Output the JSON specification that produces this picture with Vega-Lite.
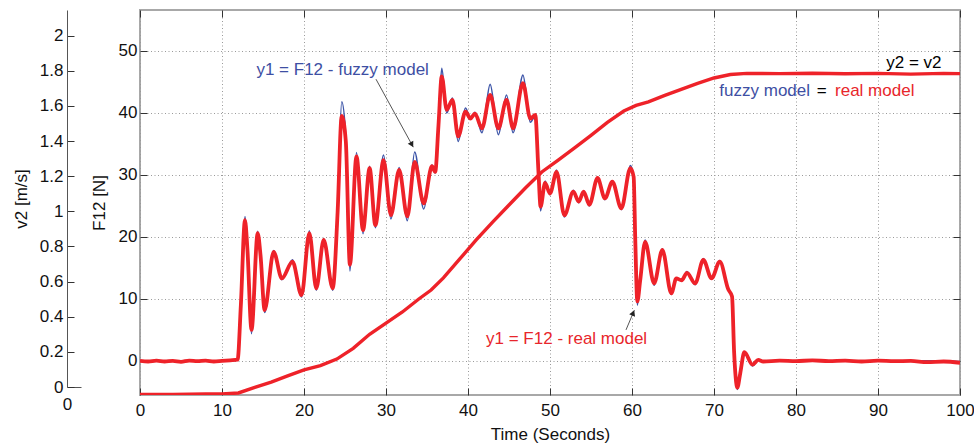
{
  "$schema": "https://vega.github.io/schema/vega-lite/v6.json",
  "padding": {"left": 12, "top": 8, "right": 14, "bottom": 0},
  "background": "white",
  "spacing": 8,
  "config": {
    "font": "Liberation Sans",
    "axis": {
      "labelFont": "Liberation Sans",
      "titleFont": "Liberation Sans",
      "labelFontSize": 17,
      "titleFontSize": 17,
      "titleFontWeight": "normal",
      "labelColor": "#111111",
      "titleColor": "#111111",
      "tickColor": "#333333",
      "domainColor": "#555555",
      "labelOverlap": false
    },
    "text": {"font": "Liberation Sans"}
  },
  "datasets": {
    "f12": [
      {"t": 0, "real": 0.0, "fuzzy": 0.0},
      {"t": 1, "real": -0.1, "fuzzy": 0.0},
      {"t": 2, "real": 0.05, "fuzzy": 0.0},
      {"t": 3, "real": -0.1, "fuzzy": 0.0},
      {"t": 4, "real": 0.0, "fuzzy": 0.0},
      {"t": 5, "real": -0.15, "fuzzy": 0.0},
      {"t": 6, "real": 0.05, "fuzzy": 0.0},
      {"t": 7, "real": -0.05, "fuzzy": 0.0},
      {"t": 8, "real": 0.05, "fuzzy": 0.0},
      {"t": 9, "real": -0.1, "fuzzy": 0.0},
      {"t": 10, "real": 0.0, "fuzzy": 0.0},
      {"t": 11, "real": 0.1, "fuzzy": 0.0},
      {"t": 11.9, "real": 0.2, "fuzzy": 0.2},
      {"t": 12.3, "real": 9, "fuzzy": 9},
      {"t": 12.8, "real": 22.7, "fuzzy": 23.3},
      {"t": 13.1, "real": 18, "fuzzy": 18},
      {"t": 13.6, "real": 5.0, "fuzzy": 4.4},
      {"t": 14.35, "real": 20.6, "fuzzy": 20.9},
      {"t": 14.7, "real": 17, "fuzzy": 17},
      {"t": 15.2, "real": 8.2, "fuzzy": 7.8},
      {"t": 16.3, "real": 17.6, "fuzzy": 17.8},
      {"t": 17.3, "real": 13.3, "fuzzy": 13.1},
      {"t": 18.6, "real": 16.0, "fuzzy": 16.3},
      {"t": 19.7, "real": 10.6, "fuzzy": 10.3},
      {"t": 20.65, "real": 20.6, "fuzzy": 21.0},
      {"t": 21.5, "real": 11.7, "fuzzy": 11.4},
      {"t": 22.4, "real": 19.5, "fuzzy": 19.7},
      {"t": 23.5, "real": 11.7, "fuzzy": 11.4},
      {"t": 24.1, "real": 24, "fuzzy": 24},
      {"t": 24.6, "real": 39.5, "fuzzy": 41.8},
      {"t": 25.1, "real": 35.4, "fuzzy": 36},
      {"t": 25.6, "real": 15.5, "fuzzy": 14.5},
      {"t": 26.4, "real": 33.0, "fuzzy": 33.6},
      {"t": 27.2, "real": 21.1, "fuzzy": 20.5},
      {"t": 28.0, "real": 31.1, "fuzzy": 31.4},
      {"t": 28.7, "real": 21.9, "fuzzy": 21.5},
      {"t": 29.7, "real": 32.4, "fuzzy": 33.2},
      {"t": 30.6, "real": 23.5, "fuzzy": 22.9},
      {"t": 31.6, "real": 30.8, "fuzzy": 31.2},
      {"t": 32.6, "real": 23.3, "fuzzy": 22.6},
      {"t": 33.5, "real": 32.1, "fuzzy": 33.7},
      {"t": 34.6, "real": 25.4, "fuzzy": 24.5},
      {"t": 35.6, "real": 31.4, "fuzzy": 31.6},
      {"t": 36.0, "real": 30.5, "fuzzy": 30.3},
      {"t": 36.4, "real": 38, "fuzzy": 38},
      {"t": 36.8, "real": 45.9, "fuzzy": 47.2},
      {"t": 37.4, "real": 40.5, "fuzzy": 40},
      {"t": 38.1, "real": 42.1, "fuzzy": 42.4},
      {"t": 38.8, "real": 36.2, "fuzzy": 35.4},
      {"t": 39.7, "real": 40.2, "fuzzy": 40.8},
      {"t": 40.3, "real": 39.1, "fuzzy": 39.0},
      {"t": 40.85, "real": 39.9, "fuzzy": 40.1},
      {"t": 41.7, "real": 37.5, "fuzzy": 36.8},
      {"t": 42.7, "real": 42.9, "fuzzy": 44.6},
      {"t": 43.7, "real": 37.5, "fuzzy": 36.5},
      {"t": 44.7, "real": 42.1, "fuzzy": 42.9},
      {"t": 45.5, "real": 37.5, "fuzzy": 36.8},
      {"t": 46.7, "real": 44.8, "fuzzy": 46.1},
      {"t": 47.6, "real": 39.1, "fuzzy": 38.5},
      {"t": 48.2, "real": 39.7, "fuzzy": 39.5},
      {"t": 48.6, "real": 30.3, "fuzzy": 30.3},
      {"t": 48.85, "real": 24.9, "fuzzy": 24.2},
      {"t": 49.4, "real": 28.7, "fuzzy": 29},
      {"t": 50.0, "real": 27.0, "fuzzy": 26.8},
      {"t": 50.8, "real": 30.5, "fuzzy": 30.8},
      {"t": 51.75, "real": 23.5, "fuzzy": 23.2},
      {"t": 52.85, "real": 27.3, "fuzzy": 27.5},
      {"t": 53.5, "real": 25.7, "fuzzy": 25.5},
      {"t": 54.1, "real": 27.3, "fuzzy": 27.4},
      {"t": 54.8, "real": 25.2, "fuzzy": 25.0},
      {"t": 55.8, "real": 29.5, "fuzzy": 29.6},
      {"t": 56.7, "real": 26.2, "fuzzy": 26.0},
      {"t": 57.6, "real": 28.9, "fuzzy": 29.0},
      {"t": 58.7, "real": 24.6, "fuzzy": 24.4},
      {"t": 59.8, "real": 31.1, "fuzzy": 31.5},
      {"t": 60.2, "real": 29.7, "fuzzy": 29.7},
      {"t": 60.4, "real": 19.5, "fuzzy": 19.5},
      {"t": 60.65, "real": 9.6, "fuzzy": 9.0},
      {"t": 61.0, "real": 13, "fuzzy": 13},
      {"t": 61.6, "real": 19.2, "fuzzy": 19.5},
      {"t": 62.7, "real": 12.5, "fuzzy": 12.2},
      {"t": 63.7, "real": 17.9, "fuzzy": 18.1},
      {"t": 64.8, "real": 10.9, "fuzzy": 10.7},
      {"t": 65.4, "real": 13.3, "fuzzy": 13.4},
      {"t": 66.05, "real": 13.0, "fuzzy": 12.9},
      {"t": 66.7, "real": 14.2, "fuzzy": 14.4},
      {"t": 67.7, "real": 12.5, "fuzzy": 12.3},
      {"t": 68.7, "real": 16.3, "fuzzy": 16.5},
      {"t": 69.7, "real": 13.3, "fuzzy": 13.2},
      {"t": 70.7, "real": 16.0, "fuzzy": 16.2},
      {"t": 71.75, "real": 11.5, "fuzzy": 11.5},
      {"t": 72.2, "real": 10.4, "fuzzy": 10.4},
      {"t": 72.45, "real": 1.5, "fuzzy": 1.5},
      {"t": 72.85, "real": -4.3, "fuzzy": -4.6},
      {"t": 73.2, "real": -2.0, "fuzzy": -2.0},
      {"t": 73.7, "real": 1.4, "fuzzy": 1.2},
      {"t": 74.7, "real": -0.6, "fuzzy": -0.8},
      {"t": 75.4, "real": 0.15, "fuzzy": 0.1},
      {"t": 76, "real": -0.1, "fuzzy": 0.0},
      {"t": 78, "real": 0.05, "fuzzy": 0.0},
      {"t": 80, "real": -0.05, "fuzzy": 0.0},
      {"t": 82, "real": 0.1, "fuzzy": 0.0},
      {"t": 84, "real": -0.05, "fuzzy": 0.0},
      {"t": 86, "real": 0.05, "fuzzy": 0.0},
      {"t": 88, "real": -0.1, "fuzzy": 0.0},
      {"t": 90, "real": 0.05, "fuzzy": 0.0},
      {"t": 92, "real": -0.05, "fuzzy": 0.0},
      {"t": 94, "real": 0.0, "fuzzy": 0.0},
      {"t": 96, "real": -0.2, "fuzzy": 0.0},
      {"t": 98, "real": -0.1, "fuzzy": 0.0},
      {"t": 100, "real": -0.3, "fuzzy": -0.1}
    ],
    "v2": [
      {"t": 0, "v2": -0.043},
      {"t": 4, "v2": -0.042},
      {"t": 8, "v2": -0.04},
      {"t": 10, "v2": -0.04},
      {"t": 12, "v2": -0.034},
      {"t": 14, "v2": -0.002},
      {"t": 16, "v2": 0.028},
      {"t": 18, "v2": 0.063},
      {"t": 20, "v2": 0.097},
      {"t": 22, "v2": 0.122},
      {"t": 24, "v2": 0.159},
      {"t": 26, "v2": 0.22},
      {"t": 28, "v2": 0.3},
      {"t": 30, "v2": 0.364},
      {"t": 32, "v2": 0.427},
      {"t": 34, "v2": 0.501},
      {"t": 35.5, "v2": 0.552},
      {"t": 37, "v2": 0.621},
      {"t": 39, "v2": 0.729},
      {"t": 41, "v2": 0.837},
      {"t": 43, "v2": 0.939},
      {"t": 45, "v2": 1.036},
      {"t": 47, "v2": 1.133},
      {"t": 49, "v2": 1.224},
      {"t": 51, "v2": 1.292},
      {"t": 53, "v2": 1.361},
      {"t": 55, "v2": 1.432},
      {"t": 57, "v2": 1.506},
      {"t": 59, "v2": 1.571},
      {"t": 60.5, "v2": 1.603},
      {"t": 62, "v2": 1.623},
      {"t": 64, "v2": 1.66},
      {"t": 66, "v2": 1.694},
      {"t": 68, "v2": 1.728},
      {"t": 70, "v2": 1.759},
      {"t": 72, "v2": 1.779},
      {"t": 74, "v2": 1.785},
      {"t": 78, "v2": 1.784},
      {"t": 82, "v2": 1.786},
      {"t": 86, "v2": 1.783},
      {"t": 90, "v2": 1.785},
      {"t": 94, "v2": 1.781},
      {"t": 98, "v2": 1.785},
      {"t": 100, "v2": 1.784}
    ],
    "labels": [
      {"t": 14.2, "F": 47.0, "label": "y1 = F12 - fuzzy model", "c": "#3e4fa3"},
      {"t": 42.2, "F": 3.5, "label": "y1 = F12 -  real model", "c": "#e8262b"},
      {"t": 91.0, "F": 48.0, "label": "y2 = v2", "c": "#000000"},
      {"t": 70.65, "F": 43.55, "label": "fuzzy model", "c": "#3e4fa3"},
      {"t": 82.52, "F": 43.55, "label": "=", "c": "#000000"},
      {"t": 84.76, "F": 43.55, "label": "real model", "c": "#e8262b"}
    ],
    "arrows": [
      {"t": 28.78, "F": 45.44, "t2": 33.33, "F2": 34.47},
      {"t": 59.27, "F": 5.0, "t2": 60.29, "F2": 8.2}
    ],
    "heads": [
      {"t": 33.1, "F": 35.0, "angle": 151},
      {"t": 60.1, "F": 7.6, "angle": 22.5}
    ]
  },
  "hconcat": [
    {
      "width": 14,
      "height": 377,
      "view": {"stroke": null},
      "data": {"values": [{"x": 0, "v": 0}]},
      "mark": {"type": "point", "opacity": 0},
      "encoding": {
        "x": {
          "field": "x", "type": "quantitative",
          "scale": {"domain": [0, 1], "nice": false, "zero": false},
          "axis": {"values": [0], "title": null, "grid": false, "ticks": false, "labelPadding": 9, "labelFlush": false, "format": "d"}
        },
        "y": {
          "field": "v", "type": "quantitative",
          "scale": {"domain": [0, 2.146], "nice": false, "zero": false},
          "axis": {"values": [0, 0.2, 0.4, 0.6, 0.8, 1, 1.2, 1.4, 1.6, 1.8, 2], "format": "~g", "title": "v2 [m/s]", "grid": false, "tickSize": -7, "labelPadding": 11, "titlePadding": 9}
        }
      }
    },
    {
      "width": 820,
      "height": 385,
      "view": {"stroke": "#a8a8a8", "strokeWidth": 2},
      "resolve": {"scale": {"y": "independent"}},
      "layer": [
        {
          "layer": [
            {
              "data": {"name": "f12"},
              "mark": {"type": "line", "color": "#3d55a8", "strokeWidth": 1.6, "interpolate": "monotone", "clip": true},
              "encoding": {
                "x": {"field": "t", "type": "quantitative", "scale": {"domain": [0, 100], "nice": false},
                  "axis": {"orient": "top", "values": [0, 10, 20, 30, 40, 50, 60, 70, 80, 90, 100], "labels": false, "title": null, "grid": false, "domain": false, "tickSize": -7}},
                "y": {"field": "fuzzy", "type": "quantitative", "scale": {"domain": [-5.5, 56.6], "nice": false, "zero": false},
                  "axis": {"orient": "right", "values": [0, 10, 20, 30, 40, 50], "labels": false, "title": null, "grid": false, "domain": false, "tickSize": -7}}
              }
            },
            {
              "data": {"name": "f12"},
              "mark": {"type": "line", "color": "#ee2229", "strokeWidth": 3.8, "interpolate": "monotone", "clip": true},
              "encoding": {
                "x": {"field": "t", "type": "quantitative",
                  "axis": {"orient": "bottom", "values": [0, 10, 20, 30, 40, 50, 60, 70, 80, 90, 100], "title": "Time (Seconds)", "grid": true, "gridDash": [1, 2.5], "gridColor": "#9a9a9a", "domain": false, "tickSize": -7, "labelPadding": 14, "labelFlush": false, "titlePadding": 8}},
                "y": {"field": "real", "type": "quantitative",
                  "axis": {"orient": "left", "values": [0, 10, 20, 30, 40, 50], "title": "F12 [N]", "grid": true, "gridDash": [1, 2.5], "gridColor": "#9a9a9a", "domain": false, "tickSize": -7, "labelPadding": 10, "titlePadding": 10}}
              }
            },
            {
              "data": {"name": "arrows"},
              "mark": {"type": "rule", "color": "#555555", "strokeWidth": 1},
              "encoding": {
                "x": {"field": "t", "type": "quantitative", "axis": null},
                "y": {"field": "F", "type": "quantitative", "axis": null},
                "x2": {"field": "t2"},
                "y2": {"field": "F2"}
              }
            },
            {
              "data": {"name": "heads"},
              "mark": {"type": "point", "shape": "triangle", "filled": true, "color": "#222222", "size": 40, "opacity": 1},
              "encoding": {
                "x": {"field": "t", "type": "quantitative", "axis": null},
                "y": {"field": "F", "type": "quantitative", "axis": null},
                "angle": {"field": "angle", "type": "quantitative", "scale": null}
              }
            },
            {
              "data": {"name": "labels"},
              "mark": {"type": "text", "align": "left", "baseline": "middle", "fontSize": 17},
              "encoding": {
                "x": {"field": "t", "type": "quantitative", "axis": null},
                "y": {"field": "F", "type": "quantitative", "axis": null},
                "text": {"field": "label"},
                "color": {"field": "c", "type": "nominal", "scale": null}
              }
            }
          ]
        },
        {
          "data": {"name": "v2"},
          "mark": {"type": "line", "color": "#ee2229", "strokeWidth": 3.4, "clip": true},
          "encoding": {
            "x": {"field": "t", "type": "quantitative", "axis": null},
            "y": {"field": "v2", "type": "quantitative", "scale": {"domain": [-0.0455, 2.146], "nice": false, "zero": false}, "axis": null}
          }
        }
      ]
    }
  ]
}
